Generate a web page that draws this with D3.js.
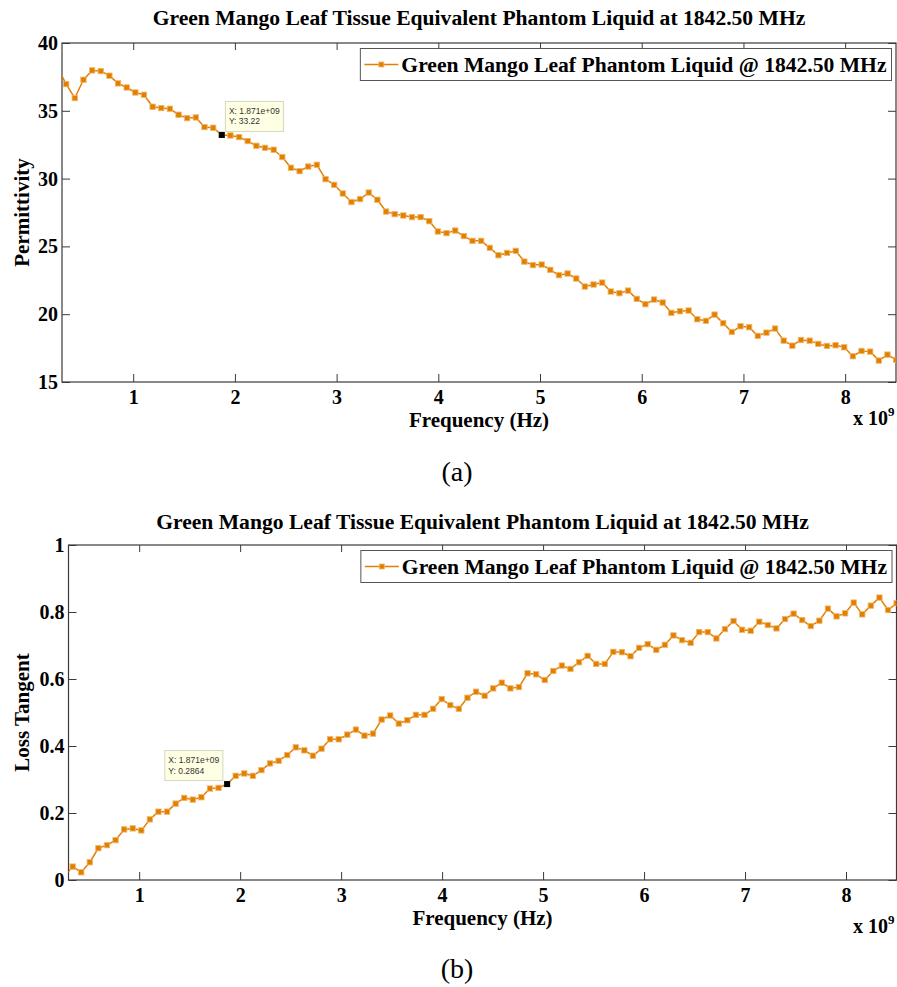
<!DOCTYPE html>
<html>
<head>
<meta charset="utf-8">
<script src="https://cdn.jsdelivr.net/npm/d3@7"></script>
<style>
  body { margin: 0; background: #fff; }
  svg { display: block; }
</style>
</head>
<body>
<svg id="fig" width="897" height="987"></svg>
<script>
// Measured sweep frequencies (GHz)
const freqGHz = [
  0.256, 0.341, 0.426, 0.511, 0.596, 0.681, 0.766, 0.851, 0.936, 1.021,
  1.106, 1.191, 1.276, 1.361, 1.446, 1.531, 1.616, 1.701, 1.786, 1.871,
  1.956, 2.041, 2.126, 2.211, 2.296, 2.381, 2.466, 2.551, 2.636, 2.721,
  2.806, 2.891, 2.976, 3.061, 3.146, 3.231, 3.316, 3.401, 3.486, 3.571,
  3.656, 3.741, 3.826, 3.911, 3.996, 4.081, 4.166, 4.251, 4.336, 4.421,
  4.506, 4.591, 4.676, 4.761, 4.846, 4.931, 5.016, 5.101, 5.186, 5.271,
  5.356, 5.441, 5.526, 5.611, 5.696, 5.781, 5.866, 5.951, 6.036, 6.121,
  6.206, 6.291, 6.376, 6.461, 6.546, 6.631, 6.716, 6.801, 6.886, 6.971,
  7.056, 7.141, 7.226, 7.311, 7.396, 7.481, 7.566, 7.651, 7.736, 7.821,
  7.906, 7.991, 8.076, 8.161, 8.246, 8.331, 8.416, 8.501
];

// Relative permittivity of the phantom liquid
const permittivity = [
  38.20, 36.97, 35.94, 37.29, 37.98, 37.93, 37.59, 37.02, 36.72, 36.35,
  36.18, 35.30, 35.20, 35.15, 34.71, 34.46, 34.51, 33.80, 33.75, 33.22,
  33.18, 33.06, 32.77, 32.42, 32.27, 32.13, 31.59, 30.80, 30.55, 30.89,
  31.02, 29.96, 29.54, 28.90, 28.27, 28.49, 28.97, 28.44, 27.57, 27.38,
  27.28, 27.16, 27.16, 26.86, 26.10, 25.98, 26.17, 25.76, 25.41, 25.41,
  24.89, 24.35, 24.52, 24.67, 23.88, 23.62, 23.66, 23.27, 22.88, 23.00,
  22.63, 22.04, 22.19, 22.33, 21.67, 21.55, 21.74, 21.13, 20.74, 21.08,
  20.86, 20.10, 20.22, 20.27, 19.63, 19.51, 19.97, 19.34, 18.69, 19.11,
  19.04, 18.40, 18.64, 18.94, 18.05, 17.68, 18.10, 18.05, 17.81, 17.66,
  17.71, 17.56, 16.90, 17.29, 17.24, 16.58, 17.02, 16.63
];

// Loss tangent of the phantom liquid
const lossTangent = [
  0.010, 0.040, 0.023, 0.053, 0.095, 0.104, 0.119, 0.151, 0.154, 0.148,
  0.181, 0.204, 0.204, 0.228, 0.245, 0.240, 0.247, 0.273, 0.275, 0.2864,
  0.311, 0.318, 0.311, 0.328, 0.348, 0.356, 0.373, 0.396, 0.387, 0.371,
  0.392, 0.420, 0.420, 0.434, 0.449, 0.431, 0.437, 0.479, 0.491, 0.467,
  0.477, 0.493, 0.493, 0.511, 0.540, 0.522, 0.511, 0.544, 0.562, 0.550,
  0.572, 0.589, 0.572, 0.576, 0.617, 0.614, 0.597, 0.624, 0.640, 0.630,
  0.650, 0.669, 0.645, 0.645, 0.681, 0.680, 0.668, 0.693, 0.704, 0.687,
  0.702, 0.730, 0.716, 0.708, 0.740, 0.740, 0.721, 0.749, 0.773, 0.747,
  0.744, 0.771, 0.761, 0.751, 0.779, 0.795, 0.776, 0.758, 0.774, 0.810,
  0.787, 0.796, 0.828, 0.793, 0.819, 0.843, 0.806, 0.826
];

const xDomain = [0.3, 8.5];
const xTicks = [1, 2, 3, 4, 5, 6, 7, 8];
const permDomain = [15, 40];
const permTicks = [15, 20, 25, 30, 35, 40];
const lossDomain = [0, 1];
const lossTicks = [0, 0.2, 0.4, 0.6, 0.8, 1];

const titleText = "Green Mango Leaf Tissue Equivalent Phantom Liquid at 1842.50 MHz";
const legendText = "Green Mango Leaf Phantom Liquid @ 1842.50 MHz";
const xLabelText = "Frequency (Hz)";
const tipFreq = 1.871;

const SERIF = "'Liberation Serif', 'Times New Roman', serif";
const SANS = "'Liberation Sans', Arial, sans-serif";
const ORANGE = "#e18000";
const AXIS = "#3a3a3a";

const svg = d3.select("#fig");
svg.append("rect").attr("width", 897).attr("height", 987).attr("fill", "#fff");

function expLabel(v) {
  return v.toExponential(3).replace(/e([+-])(\d)$/, "e$10$2");
}
const sig4 = d3.format(".4~g");

function drawPanel(o) {
  const g = svg.append("g");
  const x = d3.scaleLinear().domain(xDomain).range([o.left, o.right]);
  const y = d3.scaleLinear().domain(o.yDomain).range([o.bottom, o.top]);
  const data = freqGHz.map((f, i) => ({ f, v: o.values[i] }));

  const clipId = "clip-" + o.id;
  g.append("clipPath").attr("id", clipId)
    .append("rect")
    .attr("x", o.left).attr("y", o.top)
    .attr("width", o.right - o.left).attr("height", o.bottom - o.top);

  // title
  g.append("text")
    .attr("x", (o.left + o.right) / 2).attr("y", o.titleY)
    .attr("text-anchor", "middle")
    .attr("font-family", SERIF).attr("font-weight", "bold").attr("font-size", 21.6)
    .attr("fill", "#000")
    .text(titleText);

  // axes with inward ticks on all four sides
  const styleAxis = sel => {
    sel.select(".domain").remove();
    sel.selectAll(".tick line").attr("stroke", AXIS).attr("stroke-width", 1);
    sel.selectAll(".tick text")
      .attr("font-family", SERIF).attr("font-weight", "bold")
      .attr("font-size", 20).attr("fill", "#000");
  };
  g.append("g").attr("transform", `translate(0,${o.bottom})`)
    .call(d3.axisBottom(x).tickValues(xTicks).tickFormat(d3.format("d"))
      .tickSizeInner(-8).tickSizeOuter(0).tickPadding(7.5))
    .call(styleAxis);
  g.append("g").attr("transform", `translate(0,${o.top})`)
    .call(d3.axisTop(x).tickValues(xTicks).tickFormat("")
      .tickSizeInner(-7).tickSizeOuter(0))
    .call(styleAxis);
  g.append("g").attr("transform", `translate(${o.left},0)`)
    .call(d3.axisLeft(y).tickValues(o.yTicks).tickFormat(o.yFormat)
      .tickSizeInner(-8).tickSizeOuter(0).tickPadding(4))
    .call(styleAxis);
  g.append("g").attr("transform", `translate(${o.right},0)`)
    .call(d3.axisRight(y).tickValues(o.yTicks).tickFormat("")
      .tickSizeInner(-8).tickSizeOuter(0))
    .call(styleAxis);

  // plot frame
  g.append("rect")
    .attr("x", o.left).attr("y", o.top)
    .attr("width", o.right - o.left).attr("height", o.bottom - o.top)
    .attr("fill", "none").attr("stroke", AXIS).attr("stroke-width", 1.2);

  // series
  const plot = g.append("g").attr("clip-path", `url(#${clipId})`);
  plot.append("path")
    .datum(data)
    .attr("fill", "none").attr("stroke", ORANGE).attr("stroke-width", 1.5)
    .attr("stroke-linejoin", "round")
    .attr("d", d3.line().x(d => x(d.f)).y(d => y(d.v)));
  plot.selectAll("rect.mk").data(data).join("rect")
    .attr("class", "mk")
    .attr("x", d => x(d.f) - 2.7).attr("y", d => y(d.v) - 2.7)
    .attr("width", 5.4).attr("height", 5.4)
    .attr("fill", ORANGE).attr("stroke", "#f2b66a").attr("stroke-width", 0.8);

  // data tip
  const tip = data[freqGHz.indexOf(tipFreq)];
  const px = x(tip.f), py = y(tip.v);
  const bw = 58, bh = 30;
  const bx = o.tipLeft ? px - 4.3 - bw : px + 3.6;
  const by = py - 33.5;
  const tg = g.append("g");
  tg.append("rect").attr("x", bx).attr("y", by).attr("width", bw).attr("height", bh)
    .attr("fill", "#ffffe3").attr("stroke", "#d6d6c4").attr("stroke-width", 1);
  tg.append("text").attr("x", bx + 3.5).attr("y", by + 12.3)
    .attr("font-family", SANS).attr("font-size", 8.5).attr("fill", "#333")
    .text("X: " + expLabel(tip.f * 1e9));
  tg.append("text").attr("x", bx + 3.5).attr("y", by + 23)
    .attr("font-family", SANS).attr("font-size", 8.5).attr("fill", "#333")
    .text("Y: " + sig4(tip.v));
  tg.append("rect").attr("x", px - 3).attr("y", py - 3).attr("width", 6).attr("height", 6)
    .attr("fill", "#000");

  // legend
  const lg = g.append("g");
  const lt = lg.append("text")
    .attr("font-family", SERIF).attr("font-weight", "bold").attr("font-size", 21.6)
    .attr("fill", "#000").text(legendText);
  const tw = lt.node().getComputedTextLength();
  const lw = tw + 46, lh = 32;
  const lx = o.right - 4.5 - lw, ly = o.top + 5.5;
  lg.insert("rect", "text")
    .attr("x", lx).attr("y", ly).attr("width", lw).attr("height", lh)
    .attr("fill", "#fff").attr("stroke", "#555").attr("stroke-width", 1);
  lg.append("line")
    .attr("x1", lx + 4).attr("x2", lx + 38).attr("y1", ly + lh / 2).attr("y2", ly + lh / 2)
    .attr("stroke", ORANGE).attr("stroke-width", 1.5);
  lg.append("rect")
    .attr("x", lx + 21 - 2.5).attr("y", ly + lh / 2 - 2.5).attr("width", 5).attr("height", 5)
    .attr("fill", ORANGE).attr("stroke", "#f2b66a").attr("stroke-width", 0.8);
  lt.attr("x", lx + 41).attr("y", ly + lh / 2 + 7);

  // axis titles
  g.append("text")
    .attr("x", (o.left + o.right) / 2).attr("y", o.bottom + 45)
    .attr("text-anchor", "middle")
    .attr("font-family", SERIF).attr("font-weight", "bold").attr("font-size", 21)
    .text(xLabelText);
  g.append("text")
    .attr("transform", `translate(${o.yLabelX},${(o.top + o.bottom) / 2}) rotate(-90)`)
    .attr("text-anchor", "middle")
    .attr("font-family", SERIF).attr("font-weight", "bold").attr("font-size", 21)
    .text(o.yLabel);

  // exponent note
  const ex = g.append("text")
    .attr("x", 853).attr("y", o.bottom + o.expOffset)
    .attr("font-family", SERIF).attr("font-weight", "bold").attr("font-size", 20);
  ex.append("tspan").text("x 10");
  ex.append("tspan").attr("font-size", 13).attr("dy", -9).text("9");

  // caption
  g.append("text")
    .attr("x", 457).attr("y", o.captionY)
    .attr("text-anchor", "middle")
    .attr("font-family", SERIF).attr("font-size", 28)
    .text(o.caption);
}

drawPanel({
  id: "perm", left: 62, right: 896, top: 43, bottom: 382,
  yDomain: permDomain, yTicks: permTicks, yFormat: d3.format("d"),
  values: permittivity, yLabel: "Permittivity", yLabelX: 28.5,
  titleY: 25, tipLeft: false, expOffset: 43, caption: "(a)", captionY: 481
});

drawPanel({
  id: "loss", left: 68.5, right: 896.5, top: 545, bottom: 880,
  yDomain: lossDomain, yTicks: lossTicks, yFormat: d => d === 0 || d === 1 ? d3.format("d")(d) : d3.format(".1f")(d),
  values: lossTangent, yLabel: "Loss Tangent", yLabelX: 29,
  titleY: 529, tipLeft: true, expOffset: 53, caption: "(b)", captionY: 978
});
</script>
</body>
</html>
